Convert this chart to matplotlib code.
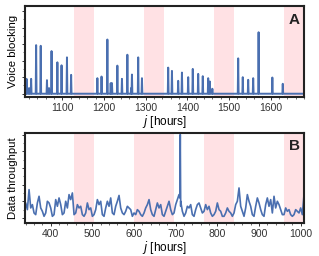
import matplotlib
matplotlib.use("Agg")
import matplotlib.pyplot as plt
import numpy as np
from matplotlib.ticker import AutoMinorLocator, MultipleLocator, NullFormatter

plt.rcParams['font.family'] = ['Liberation Sans', 'DejaVu Sans']

# --- panel A: voice blocking (hourly, mostly zero with spikes) ---
voice_start, voice_end = 1010, 1680
spike_hours = [1014, 1020, 1025, 1037, 1048, 1063, 1068, 1074, 1088, 1098, 1111, 1121,
               1184, 1194, 1208, 1216, 1219, 1232, 1243, 1256, 1265, 1267, 1282, 1291,
               1354, 1363, 1378, 1387, 1402, 1413, 1426, 1437, 1450, 1454, 1460,
               1522, 1533, 1546, 1558, 1571, 1604, 1629]
spike_vals = [0.9, 0.34, 0.9, 2.94, 2.9, 0.82, 0.34, 2.58, 1.9, 1.72, 2.2, 1.14,
              0.94, 1.04, 3.28, 0.64, 0.64, 1.7, 0.9, 2.36, 0.34, 1.16, 2.2, 0.94,
              1.58, 1.38, 0.78, 1.28, 1.0, 1.5, 1.2, 1.06, 0.94, 0.74, 0.3,
              2.14, 1.0, 0.84, 0.94, 3.72, 0.98, 0.6]
voice_shade = [(1128, 1176), (1296, 1344), (1464, 1512), (1632, 1680)]

# --- panel B: data throughput (sampled every 4 hours) ---
thr_start = 336
thr_vals = [
    0.3, 0.9, 0.5, 1.7, 0.6, 0.8,      # 336
    0.3, 0.2, 0.9, 1.3, 0.6, 0.4,      # 360
    0.1, 0.3, 1.0, 0.9, 0.6, 0.1,      # 384
    0.2, 1.1, 0.7, 1.2, 0.8, 0.2,      # 408
    0.3, 1.0, 0.6, 1.4, 1.1, 1.5,      # 432
    0.2, 0.3, 0.8, 0.6, 0.7, 0.2,      # 456
    0.1, 0.3, 0.9, 0.5, 0.6, 0.1,      # 480
    0.2, 0.5, 1.1, 0.8, 1.0, 0.2,      # 504
    0.1, 0.6, 1.0, 0.7, 1.2, 0.3,      # 528
    0.2, 0.7, 1.0, 1.35, 0.6, 0.3,     # 552
    0.2, 0.4, 0.7, 0.6, 0.5, 0.1,      # 576
    0.3, 0.2, 0.5, 0.4, 0.2, 0.1,      # 600
    0.3, 0.6, 0.8, 1.1, 0.5, 0.2,      # 624
    0.1, 0.5, 0.9, 0.6, 0.8, 0.2,      # 648
    0.1, 0.4, 0.7, 1.0, 0.5, 0.2,      # 672
    0.3, 0.8, 1.1, 1.4, 0.7, 0.4,      # 696
    0.1, 0.3, 0.7, 0.6, 0.8, 0.2,      # 720
    0.1, 0.5, 0.8, 0.9, 0.6, 0.3,      # 744
    0.4, 0.8, 0.5, 0.7, 0.3, 0.1,      # 768
    0.2, 0.4, 0.9, 0.5, 0.4, 0.1,      # 792
    0.1, 0.3, 0.6, 0.4, 0.3, 0.1,      # 816
    0.3, 0.8, 1.0, 1.8, 0.7, 0.4,      # 840
    0.1, 0.6, 1.4, 1.0, 0.7, 0.2,      # 864
    0.1, 0.7, 1.2, 0.9, 0.5, 0.2,      # 888
    0.1, 0.8, 1.2, 0.7, 1.1, 0.3,      # 912
    1.3, 0.6, 1.0, 0.8, 0.5, 0.2,      # 936
    0.2, 0.6, 0.4, 0.5, 0.2, 0.1,      # 960
    0.2, 0.5, 0.4, 0.3, 0.6, 0.2,      # 984
    1.4]                               # 1008
thr_peak_hours = [710, 711, 712]
thr_peak_vals = [1.2, 5.0, 1.0]
thr_shade = [(456, 504), (600, 696), (768, 840), (960, 1008)]

blue = "#4a6fb0"
pink = "#ffe1e4"

# build hourly voice series
voice_h = np.arange(voice_start, voice_end + 1)
voice_v = np.zeros(len(voice_h))
for h, v in zip(spike_hours, spike_vals):
    voice_v[h - voice_start] = v

thr_h = list(range(thr_start, thr_start + 4 * len(thr_vals), 4)) + thr_peak_hours
thr_v = list(thr_vals) + thr_peak_vals
order = np.argsort(thr_h, kind="stable")
thr_h = np.array(thr_h)[order]
thr_v = np.array(thr_v)[order]

fig = plt.figure(figsize=(3.19, 2.56), dpi=100)
ax1 = fig.add_axes([0.078, 0.621, 0.875, 0.355])
ax2 = fig.add_axes([0.078, 0.129, 0.875, 0.352])

def style(ax, label, ylab):
    for s in ax.spines.values():
        s.set_linewidth(1.5)
        s.set_color("#222222")
    ax.yaxis.set_major_locator(MultipleLocator(1))
    ax.yaxis.set_minor_locator(AutoMinorLocator(2))
    ax.yaxis.set_major_formatter(NullFormatter())
    ax.xaxis.set_minor_locator(AutoMinorLocator(5))
    ax.tick_params(which="major", direction="out", length=2.5, width=0.7,
                   labelsize=7.5, pad=2, colors="#333333")
    ax.tick_params(which="minor", direction="out", length=1.3, width=0.5, colors="#333333")
    ax.set_xlabel(r"$j$ [hours]", fontsize=8.5, labelpad=0)
    ax.set_ylabel(ylab, fontsize=8.2, labelpad=0)
    ax.text(0.985, 0.93, label, transform=ax.transAxes, ha="right", va="top",
            fontsize=11, fontweight="bold", color="#222222")

for a, b in voice_shade:
    ax1.axvspan(a, b, color=pink, lw=0, zorder=0)
ax1.plot(voice_h, voice_v, color=blue, lw=1.4, zorder=2)
ax1.set_xlim(voice_start, voice_end)
ax1.set_ylim(-0.2, 5.3)
ax1.set_xticks([1100, 1200, 1300, 1400, 1500, 1600])
style(ax1, "A", "Voice blocking")

for a, b in thr_shade:
    ax2.axvspan(a, b, color=pink, lw=0, zorder=0)
ax2.plot(thr_h, thr_v, color=blue, lw=1.2, zorder=2)
ax2.set_xlim(338, 1008)
ax2.set_ylim(-0.3, 5.1)
ax2.set_xticks([400, 500, 600, 700, 800, 900, 1000])
style(ax2, "B", "Data throughput")

fig.savefig("out.png", dpi=100)
